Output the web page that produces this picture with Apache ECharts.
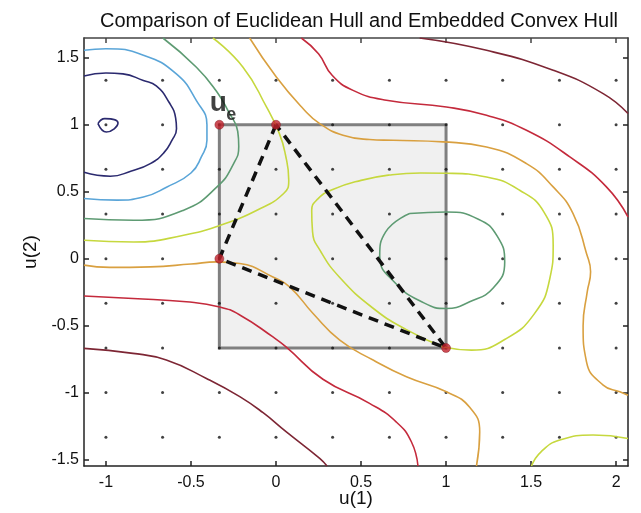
<!DOCTYPE html>
<html>
<head>
<meta charset="UTF-8">
<title>Euclidean Hull vs Embedded Convex Hull</title>
<script src="https://cdn.jsdelivr.net/npm/echarts@6/dist/echarts.min.js"></script>
<style>
	body { margin: 0; background: #fff; }
	#hull { width: 641px; height: 513px; }
</style>
</head>
<body>
	<div id="hull"></div>
	<script type="text/javascript">
		// axis ticks
		var xTicks = [ -1, -0.5, 0, 0.5, 1, 1.5, 2 ];
		var yTicks = [ -1.5, -1, -0.5, 0, 0.5, 1, 1.5 ];

		// sample grid (dots)
		var dotX = [ -1, -0.667, -0.333, 0, 0.333, 0.667, 1, 1.333, 1.667, 2 ];
		var dotY = [ 1.333, 1, 0.667, 0.333, 0, -0.333, -0.667, -1, -1.333 ];

		// hull box corners and embedded hull vertices
		var boxX = [ -0.333, 1 ];
		var boxY = [ -0.667, 1 ];
		var hullPts = [ [ 0, 1 ], [ -0.333, 0 ], [ 1, -0.667 ], [ 0, 1 ] ];
		var redPts = [ [ -0.333, 1 ], [ 0, 1 ], [ -0.333, 0 ], [ 1, -0.667 ] ];
		var uePt = [ -0.333, 1 ];

		// contour lines
		var cNavySmall = [ [ -1.047, 1.009 ], [ -1.007, 1.046 ], [ -0.929, 1.013 ], [ -0.998, 0.946 ], [ -1.047, 1.009 ] ];
		var cNavy = [ [ -1.129, 1.365 ], [ -1.0, 1.387 ], [ -0.9, 1.38 ], [ -0.78, 1.33 ], [ -0.704, 1.29 ], [ -0.63, 1.17 ],
				[ -0.59, 1.05 ], [ -0.585, 0.97 ], [ -0.612, 0.884 ], [ -0.66, 0.79 ], [ -0.739, 0.71 ], [ -0.85, 0.655 ],
				[ -0.974, 0.616 ], [ -1.129, 0.645 ] ];
		var cBlue = [ [ -1.129, 1.556 ], [ -1.0, 1.568 ], [ -0.78, 1.52 ], [ -0.586, 1.38 ], [ -0.468, 1.18 ], [ -0.406, 1.0 ],
				[ -0.406, 0.884 ], [ -0.439, 0.76 ], [ -0.5, 0.64 ], [ -0.641, 0.536 ], [ -0.78, 0.46 ], [ -0.935, 0.437 ],
				[ -1.129, 0.449 ] ];
		var cTeal = [ [ -0.665, 1.648 ], [ -0.468, 1.43 ], [ -0.35, 1.25 ], [ -0.28, 1.1 ], [ -0.225, 0.95 ], [ -0.219, 0.84 ],
				[ -0.249, 0.71 ], [ -0.347, 0.536 ], [ -0.543, 0.362 ], [ -0.837, 0.287 ], [ -1.129, 0.3 ] ];
		var cYellowL = [ [ -0.371, 1.648 ], [ -0.194, 1.43 ], [ -0.056, 1.133 ], [ 0.02, 0.934 ], [ 0.055, 0.78 ], [ 0.075, 0.586 ],
				[ 0.045, 0.487 ], [ -0.112, 0.362 ], [ -0.327, 0.25 ], [ -0.543, 0.175 ], [ -0.837, 0.125 ], [ -1.129, 0.138 ] ];
		var cYellowR = [ [ 0.982, -0.66 ], [ 0.767, -0.53 ], [ 0.571, -0.37 ], [ 0.375, -0.14 ], [ 0.26, 0.06 ], [ 0.215, 0.2 ],
				[ 0.21, 0.36 ], [ 0.245, 0.445 ], [ 0.33, 0.515 ], [ 0.5, 0.585 ], [ 0.669, 0.625 ], [ 0.85, 0.64 ],
				[ 1.002, 0.638 ], [ 1.238, 0.61 ], [ 1.433, 0.511 ], [ 1.575, 0.35 ], [ 1.63, 0.1 ], [ 1.61, -0.15 ],
				[ 1.52, -0.41 ], [ 1.35, -0.6 ], [ 1.15, -0.683 ], [ 0.982, -0.66 ] ];
		var cTealR = [ [ 0.786, 0.337 ], [ 1.002, 0.349 ], [ 1.19, 0.295 ], [ 1.3, 0.17 ], [ 1.345, -0.024 ], [ 1.28, -0.215 ],
				[ 1.139, -0.322 ], [ 1.002, -0.372 ], [ 0.87, -0.33 ], [ 0.7, -0.18 ], [ 0.61, 0.02 ], [ 0.645, 0.2 ],
				[ 0.786, 0.337 ] ];
		var cOrangeU = [ [ -0.155, 1.648 ], [ 0.002, 1.357 ], [ 0.16, 1.12 ], [ 0.257, 1.009 ], [ 0.394, 0.922 ], [ 0.55, 0.89 ],
				[ 0.688, 0.884 ], [ 0.982, 0.872 ], [ 1.238, 0.834 ], [ 1.473, 0.71 ], [ 1.63, 0.536 ], [ 1.747, 0.337 ],
				[ 1.826, 0.039 ], [ 1.85, -0.098 ], [ 1.83, -0.25 ], [ 1.806, -0.5 ], [ 1.826, -0.77 ], [ 1.924, -0.944 ],
				[ 2.022, -0.994 ], [ 2.07, -1.019 ] ];
		var cOrangeL = [ [ -1.129, -0.048 ], [ -0.978, -0.065 ], [ -0.739, -0.061 ], [ -0.5, -0.04 ], [ -0.347, -0.024 ],
				[ -0.213, -0.036 ], [ -0.018, -0.136 ], [ 0.08, -0.21 ], [ 0.218, -0.409 ], [ 0.375, -0.608 ],
				[ 0.571, -0.757 ], [ 0.767, -0.882 ], [ 1.002, -0.994 ], [ 1.139, -1.11 ], [ 1.198, -1.293 ],
				[ 1.179, -1.548 ] ];
		var cRedU = [ [ 0.149, 1.648 ], [ 0.25, 1.53 ], [ 0.33, 1.37 ], [ 0.453, 1.257 ], [ 0.649, 1.183 ], [ 1.002, 1.133 ],
				[ 1.238, 1.071 ], [ 1.473, 0.959 ], [ 1.728, 0.76 ], [ 1.943, 0.536 ], [ 2.07, 0.312 ] ];
		var cRedL = [ [ -1.129, -0.278 ], [ -0.841, -0.297 ], [ -0.527, -0.322 ], [ -0.331, -0.36 ], [ -0.213, -0.42 ],
				[ -0.018, -0.584 ], [ 0.061, -0.66 ], [ 0.276, -0.9 ], [ 0.55, -1.08 ], [ 0.708, -1.22 ], [ 0.796, -1.367 ],
				[ 0.835, -1.548 ] ];
		var cDarkU = [ [ 0.845, 1.648 ], [ 1.238, 1.556 ], [ 1.63, 1.407 ], [ 1.924, 1.233 ], [ 2.07, 1.084 ] ];
		var cDarkL = [ [ -1.129, -0.67 ], [ -0.841, -0.707 ], [ -0.645, -0.757 ], [ -0.409, -0.894 ], [ -0.213, -1.03 ],
				[ -0.076, -1.15 ], [ 0.061, -1.293 ], [ 0.257, -1.491 ], [ 0.3, -1.548 ] ];
		var cYellowB = [ [ 1.502, -1.548 ], [ 1.56, -1.44 ], [ 1.669, -1.354 ], [ 1.865, -1.317 ], [ 2.07, -1.342 ] ];

		var dots = [];
		for (var i = 0; i < dotX.length; i++) {
			for (var j = 0; j < dotY.length; j++) {
				dots.push([ dotX[i], dotY[j] ]);
			}
		}

		function contour(data, color) {
			return {
				type : 'line',
				data : data,
				smooth : 0.5,
				showSymbol : false,
				silent : true,
				z : 2,
				lineStyle : {
					color : color,
					width : 1.6
				}
			};
		}

		var font = 'Liberation Sans, Arial, Helvetica, sans-serif';
		var axisColor = '#222';

		var hullChart = echarts.init(document.getElementById('hull'));
		hullChart.setOption({
			animation : false,
			title : {
				text : 'Comparison of Euclidean Hull and Embedded Convex Hull',
				left : 354,
				textAlign : 'center',
				top : 6,
				textStyle : {
					fontFamily : font,
					fontSize : 20,
					fontWeight : 'normal',
					color : '#111'
				}
			},
			grid : {
				left : 84,
				right : 13,
				top : 38,
				bottom : 47,
				containLabel : false,
				outerBoundsMode : 'none'
			},
			xAxis : [ {
				type : 'value',
				min : -1.129,
				max : 2.07,
				position : 'bottom',
				name : 'u(1)',
				nameLocation : 'middle',
				nameGap : 23,
				nameMoveOverlap : false,
				nameTextStyle : {
					fontFamily : font,
					fontSize : 19,
					color : '#111'
				},
				axisLine : {
					onZero : false,
					lineStyle : {
						color : axisColor,
						width : 1.5
					}
				},
				axisTick : {
					inside : true,
					length : 5,
					customValues : xTicks,
					lineStyle : {
						color : axisColor,
						width : 1.5
					}
				},
				axisLabel : {
					customValues : xTicks,
					fontFamily : font,
					fontSize : 16,
					color : '#111',
					margin : 9
				},
				splitLine : {
					show : false
				}
			}, {
				type : 'value',
				min : -1.129,
				max : 2.07,
				position : 'top',
				axisLine : {
					onZero : false,
					lineStyle : {
						color : '#444',
						width : 1.5
					}
				},
				axisTick : {
					inside : true,
					length : 5,
					customValues : xTicks,
					lineStyle : {
						color : '#444',
						width : 1.5
					}
				},
				axisLabel : {
					show : false
				},
				splitLine : {
					show : false
				}
			} ],
			yAxis : [ {
				type : 'value',
				min : -1.548,
				max : 1.648,
				position : 'left',
				name : 'u(2)',
				nameLocation : 'middle',
				nameGap : 44,
				nameMoveOverlap : false,
				nameTextStyle : {
					fontFamily : font,
					fontSize : 19,
					color : '#111'
				},
				axisLine : {
					onZero : false,
					lineStyle : {
						color : axisColor,
						width : 1.5
					}
				},
				axisTick : {
					inside : true,
					length : 5,
					customValues : yTicks,
					lineStyle : {
						color : axisColor,
						width : 1.5
					}
				},
				axisLabel : {
					customValues : yTicks,
					fontFamily : font,
					fontSize : 16,
					color : '#111',
					margin : 5
				},
				splitLine : {
					show : false
				}
			}, {
				type : 'value',
				min : -1.548,
				max : 1.648,
				position : 'right',
				axisLine : {
					onZero : false,
					lineStyle : {
						color : axisColor,
						width : 1.5
					}
				},
				axisTick : {
					inside : true,
					length : 5,
					customValues : yTicks,
					lineStyle : {
						color : axisColor,
						width : 1.5
					}
				},
				axisLabel : {
					show : false
				},
				splitLine : {
					show : false
				}
			} ],
			series : [ {
				type : 'scatter',
				data : dots,
				symbolSize : 3,
				silent : true,
				z : 1,
				itemStyle : {
					color : '#111'
				}
			},
			contour(cNavySmall, '#2b2a6f'),
			contour(cNavy, '#2b2a6f'),
			contour(cBlue, '#5aa5d8'),
			contour(cTeal, '#5e9b73'),
			contour(cTealR, '#5e9b73'),
			contour(cYellowL, '#c6d83e'),
			contour(cYellowR, '#c6d83e'),
			contour(cYellowB, '#c6d83e'),
			contour(cOrangeU, '#d9a040'),
			contour(cOrangeL, '#d9a040'),
			contour(cRedU, '#c42a3c'),
			contour(cRedL, '#c42a3c'),
			contour(cDarkU, '#7d2634'),
			contour(cDarkL, '#7d2634'),
			{
				// Euclidean hull box
				type : 'line',
				data : [],
				z : 3,
				markArea : {
					silent : true,
					itemStyle : {
						color : 'rgba(222,222,222,0.45)',
						borderColor : '#808080',
						borderWidth : 3
					},
					data : [ [ {
						coord : [ boxX[0], boxY[0] ]
					}, {
						coord : [ boxX[1], boxY[1] ]
					} ] ]
				}
			}, {
				// embedded convex hull
				type : 'line',
				data : hullPts,
				showSymbol : false,
				silent : true,
				z : 4,
				lineStyle : {
					color : '#111',
					width : 3.5,
					type : [ 10, 7 ]
				}
			}, {
				type : 'scatter',
				data : redPts,
				symbolSize : 9,
				silent : true,
				z : 5,
				itemStyle : {
					color : '#c0202a',
					borderColor : '#7a1018',
					borderWidth : 0.5
				}
			}, {
				type : 'scatter',
				data : [ uePt ],
				symbolSize : 0,
				silent : true,
				z : 6,
				label : {
					show : true,
					position : 'inside',
					formatter : 'u',
					offset : [ -1, -21 ],
					fontFamily : font,
					fontSize : 28,
					fontWeight : 'bold',
					color : '#111'
				}
			}, {
				type : 'scatter',
				data : [ uePt ],
				symbolSize : 0,
				silent : true,
				z : 6,
				label : {
					show : true,
					position : 'inside',
					formatter : 'e',
					offset : [ 12, -10 ],
					fontFamily : font,
					fontSize : 18,
					fontWeight : 'bold',
					color : '#111'
				}
			} ]
		});
	</script>
</body>
</html>
